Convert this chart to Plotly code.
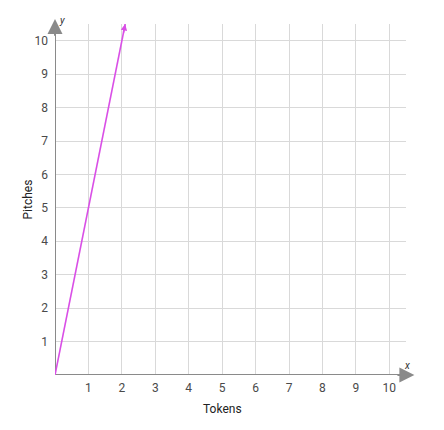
import plotly.graph_objects as go

x_ticks = [1, 2, 3, 4, 5, 6, 7, 8, 9, 10]
y_ticks = [1, 2, 3, 4, 5, 6, 7, 8, 9, 10]
line_x = [0, 2.1]
line_y = [0, 10.5]

axis_col = "#8a8a8a"
grid_col = "#d9d9d9"
font_col = "#4a4a4a"
line_col = "#d94fe6"

fig = go.Figure()
# axis lines
fig.add_trace(go.Scatter(x=[0, 10.3], y=[0, 0], mode="lines", line=dict(color=axis_col, width=2),
                         cliponaxis=False, hoverinfo="skip", showlegend=False))
fig.add_trace(go.Scatter(x=[0, 0], y=[0, 10.3], mode="lines", line=dict(color=axis_col, width=2),
                         cliponaxis=False, hoverinfo="skip", showlegend=False))
fig.add_trace(go.Scatter(
    x=line_x, y=line_y, mode="lines",
    line=dict(color=line_col, width=1.6),
    cliponaxis=False, hoverinfo="skip", showlegend=False,
))

# arrowheads via annotations
fig.add_annotation(x=10.75, y=0, ax=10.2, ay=0, axref="x", ayref="y", xref="x", yref="y",
                   text="", showarrow=True, arrowhead=2, arrowsize=1.5, arrowwidth=2, arrowcolor=axis_col)
fig.add_annotation(x=0, y=10.65, ax=0, ay=10.1, axref="x", ayref="y", xref="x", yref="y",
                   text="", showarrow=True, arrowhead=2, arrowsize=1.5, arrowwidth=2, arrowcolor=axis_col)
fig.add_annotation(x=line_x[1], y=line_y[1], ax=line_x[1] - 0.06, ay=line_y[1] - 0.3, axref="x", ayref="y",
                   xref="x", yref="y", text="", showarrow=True, arrowhead=2, arrowsize=0.8,
                   arrowwidth=1.6, arrowcolor=line_col)

fig.add_annotation(x=1.0, y=0.0, xref="paper", yref="paper", text="<i>x</i>", showarrow=False,
                   xanchor="center", yanchor="middle", xshift=1, yshift=10, font=dict(size=10, color="#333"))
fig.add_annotation(x=0.0, y=1.0, xref="paper", yref="paper", text="<i>y</i>", showarrow=False,
                   xanchor="center", yanchor="middle", xshift=7, yshift=4, font=dict(size=10, color="#333"))
fig.add_annotation(x=0.0, y=0.5, xref="paper", yref="paper", text="Pitches", showarrow=False,
                   textangle=-90, xanchor="center", yanchor="middle", xshift=-28,
                   font=dict(size=12, color="#222"))
fig.add_annotation(x=0.5, y=0.0, xref="paper", yref="paper", text="Tokens", showarrow=False,
                   xanchor="center", yanchor="middle", xshift=-8, yshift=-34,
                   font=dict(size=12, color="#222"))

fig.update_xaxes(range=[0, 10.5], tickvals=x_ticks, ticktext=[str(v) for v in x_ticks],
                 showgrid=True, gridcolor=grid_col, gridwidth=1, zeroline=False, showline=False,
                 ticks="", ticklabelstandoff=4, tickfont=dict(size=12, color=font_col),
                 automargin=False, fixedrange=True)
fig.update_yaxes(range=[0, 10.5], tickvals=y_ticks, ticktext=[str(v) for v in y_ticks],
                 showgrid=True, gridcolor=grid_col, gridwidth=1, zeroline=False, showline=False,
                 ticks="", ticklabelstandoff=6, tickfont=dict(size=12, color=font_col),
                 automargin=False, fixedrange=True)

fig.update_layout(
    width=444, height=430,
    margin=dict(l=47, r=46, t=16, b=63),
    plot_bgcolor="white", paper_bgcolor="white",
    font=dict(family="Roboto, Noto Sans, sans-serif"),
)

fig.write_html("out.html", config={"displayModeBar": False})
